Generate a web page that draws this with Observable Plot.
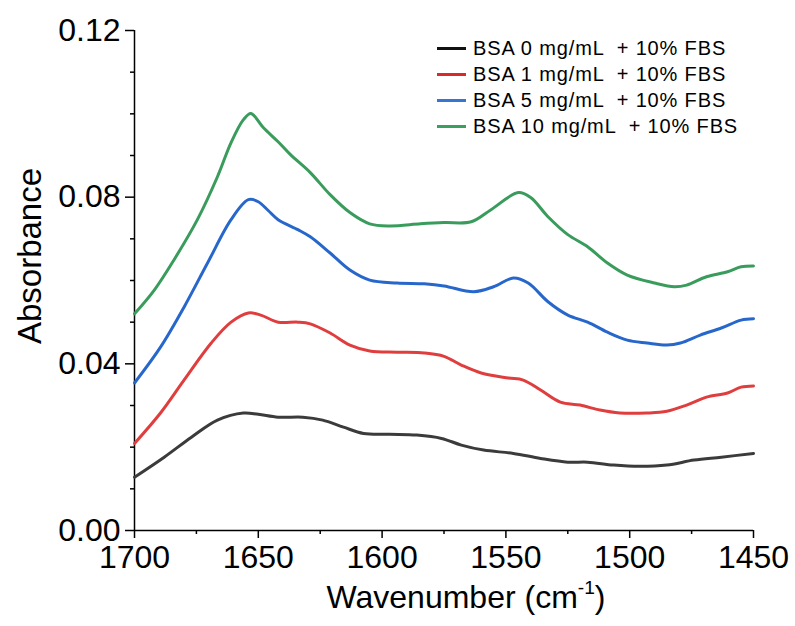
<!DOCTYPE html>
<html><head><meta charset="utf-8">
<script src="https://cdn.jsdelivr.net/npm/d3@7"></script>
<script src="https://cdn.jsdelivr.net/npm/@observablehq/plot@0.6"></script>
<style>
body{margin:0;background:#fff;}
#wrap{position:relative;width:795px;height:626px;font-family:"Liberation Sans",Arial,sans-serif;color:#000;background:#fff;}
#wrap svg{position:absolute;left:0;top:0;}
.ytitle{position:absolute;left:29px;top:256px;font-size:33px;line-height:1;white-space:nowrap;transform:translate(-50%,-50%) rotate(-90deg);}
.xtitle{position:absolute;left:466px;top:597px;font-size:32px;line-height:1;white-space:nowrap;transform:translate(-50%,-50%);}
.xtitle sup{font-size:0.6em;position:relative;top:-0.75em;vertical-align:baseline;}
.legend{position:absolute;left:437px;top:35px;}
.row{display:flex;align-items:center;height:26.2px;font-size:20px;letter-spacing:0.85px;white-space:pre;}
.sw{width:29px;height:3px;margin-right:7px;}
</style></head><body><div id="wrap"></div>
<script>
const seriesNames = ["BSA 0 mg/mL  + 10% FBS", "BSA 1 mg/mL  + 10% FBS", "BSA 5 mg/mL  + 10% FBS", "BSA 10 mg/mL  + 10% FBS"];
const lineColors = ["#3b3b3b", "#e03e3e", "#2767cc", "#3a9c5c"];
const legendColors = ["#111111", "#d92a2a", "#3776d0", "#3aa060"];

const wn0 = [1700, 1688, 1677, 1666.5, 1656, 1650, 1642, 1632, 1624, 1615.6, 1607.5, 1597, 1586, 1576, 1568, 1559, 1547, 1536, 1525, 1517, 1506.5, 1496, 1485, 1474, 1463, 1450];
const abs0 = [0.0128, 0.0176, 0.0224, 0.0265, 0.0282, 0.0279, 0.0272, 0.0272, 0.0265, 0.0248, 0.0233, 0.0231, 0.0229, 0.0221, 0.0205, 0.0193, 0.0185, 0.0173, 0.0164, 0.0164, 0.0157, 0.0154, 0.0157, 0.0169, 0.0176, 0.0185];

const wn1 = [1700, 1689.5, 1680, 1669, 1661, 1654, 1649, 1642, 1634, 1629, 1621, 1613, 1605, 1594, 1583, 1575, 1568, 1560, 1549, 1543, 1536, 1528, 1520, 1512, 1504, 1493, 1485, 1477, 1469, 1460.5, 1455, 1450];
const abs1 = [0.0209, 0.0282, 0.0361, 0.0450, 0.0500, 0.0522, 0.0517, 0.0500, 0.0500, 0.0496, 0.0474, 0.0445, 0.0431, 0.0428, 0.0426, 0.0418, 0.0397, 0.0378, 0.0366, 0.0361, 0.0337, 0.0308, 0.0301, 0.0289, 0.0282, 0.0282, 0.0286, 0.0301, 0.0320, 0.0330, 0.0344, 0.0347];

const wn5 = [1700, 1689.5, 1680, 1670.5, 1661, 1654, 1650, 1646, 1642, 1634, 1629, 1621, 1613, 1605, 1594, 1583, 1575, 1563, 1555, 1547, 1541, 1533, 1525, 1517, 1509, 1501, 1493, 1485, 1479.5, 1471.5, 1463, 1455, 1450];
const abs5 = [0.0354, 0.0440, 0.0536, 0.0642, 0.0746, 0.0794, 0.0789, 0.0768, 0.0746, 0.0722, 0.0705, 0.0666, 0.0625, 0.0601, 0.0594, 0.0592, 0.0587, 0.0573, 0.0585, 0.0606, 0.0594, 0.0549, 0.0517, 0.0500, 0.0476, 0.0457, 0.0450, 0.0445, 0.0450, 0.0469, 0.0486, 0.0505, 0.0508];

const wn10 = [1700, 1692, 1684, 1674.6, 1666.5, 1661, 1656, 1653, 1648, 1642, 1637, 1629, 1621, 1613, 1605, 1597, 1584.5, 1575, 1564, 1556, 1545, 1540, 1533, 1525, 1517, 1509, 1501, 1490, 1482, 1477, 1469, 1460.5, 1455, 1450];
const abs10 = [0.0520, 0.0577, 0.0650, 0.0746, 0.0849, 0.0931, 0.0986, 0.1001, 0.0967, 0.0933, 0.0902, 0.0859, 0.0806, 0.0763, 0.0736, 0.0731, 0.0736, 0.0739, 0.0741, 0.0770, 0.0811, 0.0799, 0.0753, 0.0710, 0.0681, 0.0642, 0.0613, 0.0594, 0.0585, 0.0589, 0.0609, 0.0621, 0.0633, 0.0635];

const xMajor = [1700, 1650, 1600, 1550, 1500, 1450];
const xMinor = [1675, 1625, 1575, 1525, 1475];
const yMajor = [0, 0.04, 0.08, 0.12];
const yMinor = [0.01, 0.02, 0.03, 0.05, 0.06, 0.07, 0.09, 0.10, 0.11];
const xTitle = "Wavenumber (cm";
const xTitleSup = "-1";
const yTitle = "Absorbance";

const data = [];
[[wn0, abs0], [wn1, abs1], [wn5, abs5], [wn10, abs10]].forEach(([w, a], k) => {
  w.forEach((v, i) => data.push({series: seriesNames[k], wn: v, abs: a[i]}));
});

const chart = Plot.plot({
  width: 795, height: 626,
  marginLeft: 134, marginRight: 42, marginTop: 30, marginBottom: 96,
  style: {fontFamily: '"Liberation Sans", Arial, sans-serif', fontSize: "32px", color: "#000", background: "transparent", overflow: "visible"},
  x: {domain: [1700, 1450]},
  y: {domain: [0, 0.12]},
  color: {domain: seriesNames, range: lineColors},
  marks: [
    Plot.axisX(xMajor, {tickSize: 8, tickPadding: 7, fontSize: 32, tickFormat: d => String(d), label: null, strokeWidth: 1.5}),
    Plot.axisX(xMinor, {tickSize: 4, tickFormat: () => "", label: null, strokeWidth: 1.5}),
    Plot.axisY(yMajor, {tickSize: 9, tickPadding: 5, fontSize: 32, tickFormat: d => d.toFixed(2), label: null, strokeWidth: 1.5}),
    Plot.axisY(yMinor, {tickSize: 4, tickFormat: () => "", label: null, strokeWidth: 1.5}),
    Plot.ruleX([1700], {strokeWidth: 1.5}),
    Plot.ruleY([0], {strokeWidth: 1.5}),
    Plot.lineY(data, {x: "wn", y: "abs", z: "series", stroke: "series", strokeWidth: 3, curve: "catmull-rom"})
  ]
});

const wrap = document.getElementById("wrap");
wrap.appendChild(chart);

const yt = document.createElement("div");
yt.className = "ytitle"; yt.textContent = yTitle; wrap.appendChild(yt);
const xt = document.createElement("div");
xt.className = "xtitle";
xt.appendChild(document.createTextNode(xTitle));
const sup = document.createElement("sup"); sup.textContent = xTitleSup; xt.appendChild(sup);
xt.appendChild(document.createTextNode(")"));
wrap.appendChild(xt);

const leg = document.createElement("div");
leg.className = "legend";
seriesNames.forEach((n, i) => {
  const r = document.createElement("div"); r.className = "row";
  const s = document.createElement("div"); s.className = "sw"; s.style.background = legendColors[i];
  const t = document.createElement("span"); t.textContent = n;
  r.appendChild(s); r.appendChild(t); leg.appendChild(r);
});
wrap.appendChild(leg);
</script>
</body></html>
